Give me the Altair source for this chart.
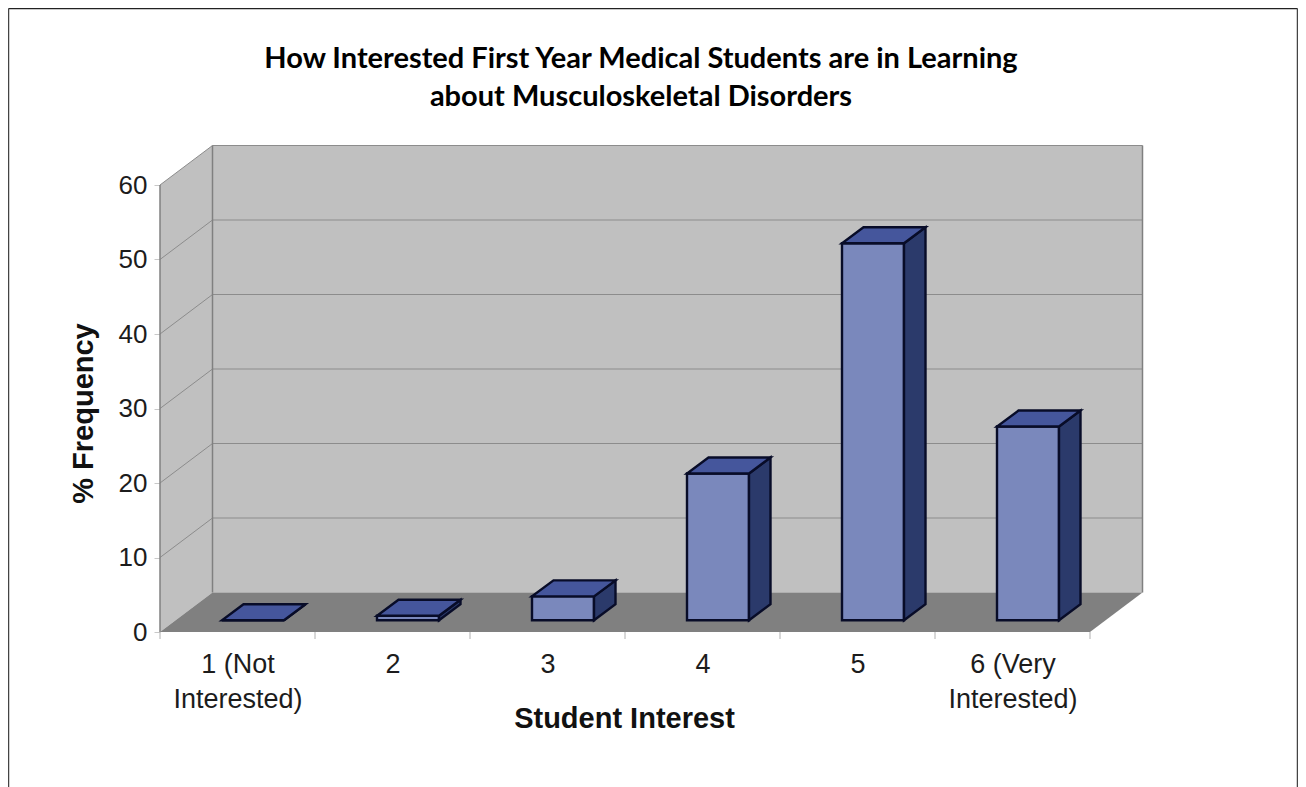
import altair as alt
import pandas as pd

categories = ["1 (Not|Interested)", "2", "3", "4", "5", "6 (Very|Interested)"]
values = [0.0, 0.6, 3.2, 19.7, 50.6, 26.0]
ticks = [0, 10, 20, 30, 40, 50, 60]
title_lines = ["How Interested First Year Medical Students are in Learning",
               "about Musculoskeletal Disorders"]

# pixels per data unit and the oblique depth of the 3D box
PX_X, PX_Y = 155.0, 7.45
DX, DY = 52.5 / PX_X, 39.5 / PX_Y           # wall/floor depth
BW = 62 / PX_X                              # bar width
BDX, BDY = 21.5 / PX_X, 16 / PX_Y           # bar depth
GX, GY = (DX - BDX) / 2, (DY - BDY) / 2     # gap in front of the bar
TOP = ticks[-1]
N = len(categories)

W, H = 984, 486
xs = alt.Scale(domain=[0, W / PX_X], nice=False, zero=False)
ys = alt.Scale(domain=[0, H / PX_Y], nice=False, zero=False)

def X(**kw):
    return alt.X("x:Q", scale=xs, **kw)
def Y(**kw):
    return alt.Y("y:Q", scale=ys, **kw)

def area(rows, color, **mk):
    return alt.Chart(pd.DataFrame(rows)).mark_area(color=color, opacity=1, **mk).encode(
        x=X(), y=Y(), y2="y2:Q", detail="g:N")

# walls and floor
side_wall = area([dict(g=0, x=0, y=0, y2=TOP), dict(g=0, x=DX, y=DY, y2=TOP + DY)], "#c0c0c0")
back_wall = area([dict(g=0, x=DX, y=DY, y2=TOP + DY), dict(g=0, x=N + DX, y=DY, y2=TOP + DY)], "#c0c0c0")
floor = area([dict(g=0, x=0, y=0, y2=0), dict(g=0, x=DX, y=0, y2=DY),
              dict(g=0, x=N, y=0, y2=DY), dict(g=0, x=N + DX, y=DY, y2=DY)], "#808080")

grid_rows = []
for t in ticks[1:]:
    grid_rows += [dict(t=t, x=0, y=t), dict(t=t, x=DX, y=t + DY), dict(t=t, x=N + DX, y=t + DY)]
grid = alt.Chart(pd.DataFrame(grid_rows)).mark_line(color="#8c8c8c", strokeWidth=1).encode(
    x=X(), y=Y(), detail="t:N", order="x:Q")

edge_rows = [dict(g=1, k=0, x=0, y=TOP), dict(g=1, k=1, x=0, y=0),
             dict(g=2, k=0, x=DX, y=TOP + DY), dict(g=2, k=1, x=DX, y=DY),
             dict(g=3, k=0, x=N + DX, y=TOP + DY), dict(g=3, k=1, x=N + DX, y=DY)]
edges = alt.Chart(pd.DataFrame(edge_rows)).mark_line(color="#808080", strokeWidth=1.5).encode(
    x=X(), y=Y(), detail="g:N", order="k:Q")

# bars
front, side, top = [], [], []
for i, v in enumerate(values):
    x0 = i + 0.5 - BW / 2 + GX
    x1 = x0 + BW
    y0, y1 = GY, GY + v
    front.append(dict(g=i, x=x0, x2=x1, y=y0, y2=y1))
    side += [dict(g=i, x=x1, y=y0, y2=y1), dict(g=i, x=x1 + BDX, y=y0 + BDY, y2=y1 + BDY)]
    top += [dict(g=i, x=x0, y=y1, y2=y1), dict(g=i, x=x0 + BDX, y=y1, y2=y1 + BDY),
            dict(g=i, x=x1, y=y1, y2=y1 + BDY), dict(g=i, x=x1 + BDX, y=y1 + BDY, y2=y1 + BDY)]

STROKE = "#080c28"
side_f = area(side, "#2b3a6b", stroke=STROKE, strokeWidth=2.4)
top_f = area(top, "#45569c", stroke=STROKE, strokeWidth=2.4)
front_f = alt.Chart(pd.DataFrame(front)).mark_rect(color="#7a88bc", stroke=STROKE, strokeWidth=2.4, opacity=1).encode(
    x=X(), x2="x2:Q", y=Y(), y2="y2:Q")

# x tick marks at the category boundaries
xticks = alt.Chart(pd.DataFrame({"x": list(range(N + 1))})).mark_rule(color="#b0b0b0", strokeWidth=1).encode(
    x=X(), y=alt.value(H), y2=alt.value(H + 7))

# real axes, carried by an invisible first layer
label_map = "{" + ",".join(f"'{i + 0.5}':{c.split('|')!r}" for i, c in enumerate(categories)) + "}"
axes_df = pd.DataFrame({"x": [0.5 + i for i in range(N)], "y": [0.0] * N})
axes = alt.Chart(axes_df).mark_point(opacity=0).encode(
    x=X(title="Student Interest", axis=alt.Axis(
        values=[0.5 + i for i in range(N)], labelExpr=f"{label_map}[datum.value]",
        ticks=False, domain=False, grid=False, labelFont="Liberation Sans", labelFontSize=27,
        labelColor="#1c1c1c", labelPadding=19, labelLineHeight=35, labelAngle=0, labelOverlap=False,
        labelFlush=False, titleFont="Liberation Sans", titleFontSize=29,
        titleFontWeight="bold", titleColor="#111111", titleX=464, titleY=95, titleAnchor="middle",
        titleBaseline="alphabetic")),
    y=Y(title="% Frequency", axis=alt.Axis(
        values=ticks, ticks=True, tickSize=6, tickColor="#c8c8c8", domain=False, grid=False,
        labelFont="Liberation Sans", labelFontSize=26, labelColor="#1c1c1c", labelPadding=7,
        titleFont="Liberation Sans", titleFontSize=29, titleFontWeight="bold",
        titleColor="#111111", titleX=-68, titleY=267, titleAnchor="middle", titleBaseline="alphabetic")),
)

# page frame
one = pd.DataFrame({"a": [0]})
frame_h = alt.Chart(one).mark_rule(color="#222222", strokeWidth=1.5).encode(
    x=alt.value(-151.5), x2=alt.value(1137.5), y=alt.value(-137.5))
frame_l = alt.Chart(one).mark_rule(color="#444444", strokeWidth=1.5).encode(
    x=alt.value(-151.5), y=alt.value(-137.5), y2=alt.value(641))
frame_r = alt.Chart(one).mark_rule(color="#444444", strokeWidth=1.5).encode(
    x=alt.value(1137.5), y=alt.value(-137.5), y2=alt.value(641))

chart = alt.layer(
    axes, side_wall, back_wall, floor, grid, edges, xticks,
    front_f, side_f, top_f,
    frame_h, frame_l, frame_r,
).properties(
    width=W, height=H,
    padding={"left": 152, "top": 138, "right": 154, "bottom": 155},
    autosize=alt.AutoSizeParams(type="none"),
    background="white",
    title=alt.TitleParams(
        text=title_lines, font="Lato", fontSize=29, fontWeight="bold", color="#000000",
        anchor="middle", dx=-11, offset=-104, lineHeight=38),
).configure_view(stroke=None)

chart.save("out.html", embed_options={"renderer": "svg", "actions": False})
